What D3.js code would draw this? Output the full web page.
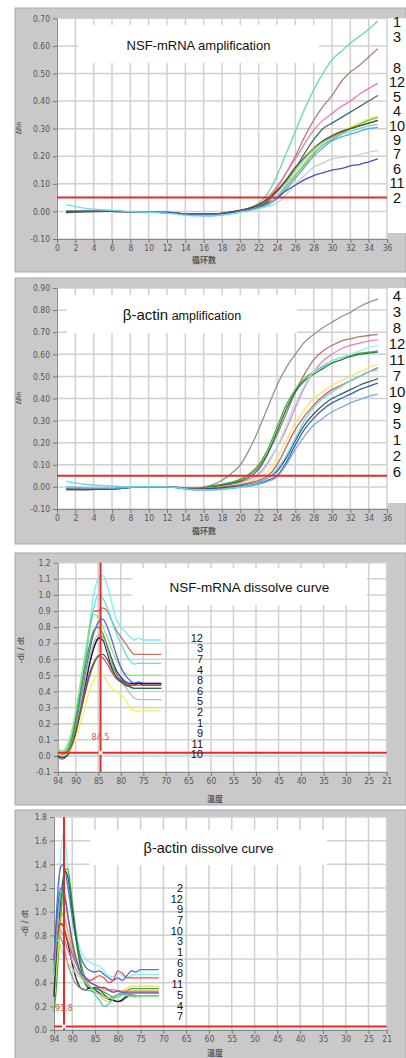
<!DOCTYPE html>
<html>
<head>
<meta charset="utf-8">
<script src="https://cdnjs.cloudflare.com/ajax/libs/d3/7.8.5/d3.min.js"></script>
<style>
body { margin: 0; background: #fff; }
svg { display: block; }
.tick text { font-family: "Liberation Sans Narrow", "DejaVu Sans Condensed", sans-serif; font-size: 8.5px; fill: #555; }
.tick line { stroke: #777; }
.domain { stroke: #8a8a8a; }
</style>
</head>
<body>
<div id="d3-container"></div>
<script>
// ---- data ----
const ampCycles = [1, 3, 6, 9, 12, 15, 17, 19, 20, 21, 22, 23, 24, 25, 26, 27, 28, 29, 30, 31, 32, 33, 34, 35];
const ampXTicks = [0, 2, 4, 6, 8, 10, 12, 14, 16, 18, 20, 22, 24, 26, 28, 30, 32, 34, 36];

const nsfAmpYTicks = [-0.1, 0, 0.1, 0.2, 0.3, 0.4, 0.5, 0.6, 0.7];
const nsfAmpLabels = ['1', '3', '8', '12', '5', '4', '10', '9', '7', '6', '11', '2'];
const nsfAmpColors = ['#56d8a8', '#b07868', '#e870b8', '#306858', '#e8e040', '#e05838', '#58c058', '#505028', '#58a0e0', '#c8c8dc', '#3048c0', '#60e0e0'];
const nsfAmpValues = [
  [0.002, 0, 0, -0.002, -0.004, -0.012, -0.012, -0.004, 0.003, 0.012, 0.03, 0.065, 0.13, 0.21, 0.29, 0.37, 0.44, 0.50, 0.55, 0.58, 0.61, 0.635, 0.66, 0.69],
  [0, 0.002, 0, -0.002, -0.004, -0.01, -0.01, -0.002, 0.004, 0.012, 0.025, 0.05, 0.09, 0.14, 0.20, 0.27, 0.33, 0.38, 0.42, 0.47, 0.505, 0.53, 0.56, 0.59],
  [-0.002, 0, 0, -0.002, -0.004, -0.01, -0.01, -0.003, 0.004, 0.012, 0.022, 0.04, 0.085, 0.14, 0.19, 0.245, 0.295, 0.33, 0.355, 0.38, 0.40, 0.425, 0.445, 0.465],
  [-0.004, -0.002, 0, -0.002, -0.004, -0.01, -0.01, -0.003, 0.003, 0.01, 0.02, 0.035, 0.075, 0.11, 0.155, 0.21, 0.26, 0.30, 0.32, 0.34, 0.36, 0.38, 0.40, 0.42],
  [0, 0, 0, -0.002, -0.004, -0.012, -0.014, -0.006, 0, 0.006, 0.014, 0.025, 0.05, 0.09, 0.14, 0.18, 0.22, 0.25, 0.27, 0.29, 0.305, 0.32, 0.335, 0.345],
  [0, 0.002, 0, -0.002, -0.004, -0.01, -0.01, -0.002, 0.004, 0.012, 0.024, 0.04, 0.07, 0.11, 0.155, 0.195, 0.23, 0.255, 0.27, 0.285, 0.30, 0.31, 0.32, 0.33],
  [0, 0, 0, -0.002, -0.004, -0.014, -0.016, -0.008, -0.002, 0.004, 0.012, 0.022, 0.05, 0.09, 0.13, 0.17, 0.21, 0.24, 0.26, 0.28, 0.30, 0.315, 0.33, 0.34],
  [-0.004, 0, 0, -0.002, -0.004, -0.01, -0.01, -0.002, 0.004, 0.012, 0.025, 0.045, 0.075, 0.115, 0.16, 0.195, 0.225, 0.255, 0.275, 0.29, 0.30, 0.31, 0.32, 0.33],
  [0, 0, 0, -0.002, -0.004, -0.012, -0.012, -0.005, 0, 0.006, 0.014, 0.025, 0.045, 0.08, 0.12, 0.16, 0.20, 0.23, 0.255, 0.27, 0.28, 0.29, 0.30, 0.305],
  [0, 0, 0, -0.002, -0.004, -0.012, -0.012, -0.006, -0.002, 0.003, 0.01, 0.018, 0.03, 0.06, 0.10, 0.13, 0.16, 0.175, 0.19, 0.195, 0.20, 0.205, 0.215, 0.22],
  [0, 0, 0, -0.002, -0.004, -0.01, -0.01, -0.004, 0, 0.006, 0.014, 0.03, 0.05, 0.075, 0.095, 0.115, 0.13, 0.14, 0.15, 0.155, 0.165, 0.17, 0.18, 0.19],
  [0.025, 0.012, 0.004, -0.002, -0.006, -0.016, -0.016, -0.008, -0.002, 0.004, 0.012, 0.025, 0.055, 0.10, 0.15, 0.19, 0.225, 0.25, 0.265, 0.28, 0.29, 0.30, 0.31, 0.315]
];

const actinAmpYTicks = [-0.1, 0, 0.1, 0.2, 0.3, 0.4, 0.5, 0.6, 0.7, 0.8, 0.9];
const actinAmpLabels = ['4', '3', '8', '12', '11', '7', '10', '9', '5', '1', '2', '6'];
const actinAmpColors = ['#8c8c8c', '#b07060', '#e878c8', '#38b038', '#207040', '#a8e8f0', '#f0e860', '#e05050', '#305848', '#3050d0', '#70a8e0', '#60d8e0'];
const actinAmpValues = [
  [-0.01, -0.01, -0.008, 0, 0, -0.006, 0.01, 0.06, 0.10, 0.17, 0.26, 0.36, 0.46, 0.54, 0.60, 0.655, 0.69, 0.72, 0.745, 0.77, 0.79, 0.815, 0.835, 0.85],
  [-0.01, -0.01, -0.008, 0, 0, -0.006, 0.004, 0.02, 0.03, 0.055, 0.09, 0.155, 0.235, 0.33, 0.43, 0.51, 0.575, 0.615, 0.64, 0.66, 0.67, 0.68, 0.685, 0.69],
  [-0.01, -0.01, -0.008, 0, 0, -0.008, 0, 0.012, 0.02, 0.035, 0.06, 0.11, 0.18, 0.26, 0.36, 0.45, 0.52, 0.57, 0.60, 0.625, 0.64, 0.65, 0.66, 0.665],
  [-0.01, -0.01, -0.008, 0, 0, -0.006, 0.004, 0.02, 0.035, 0.06, 0.10, 0.17, 0.27, 0.37, 0.44, 0.49, 0.52, 0.545, 0.57, 0.585, 0.595, 0.605, 0.61, 0.615],
  [-0.01, -0.012, -0.008, 0, 0, -0.008, 0, 0.015, 0.025, 0.045, 0.08, 0.15, 0.25, 0.35, 0.43, 0.48, 0.51, 0.535, 0.56, 0.575, 0.59, 0.60, 0.605, 0.61],
  [0, -0.004, -0.006, 0, 0, -0.01, -0.008, 0, 0.01, 0.025, 0.05, 0.10, 0.18, 0.28, 0.38, 0.46, 0.52, 0.55, 0.57, 0.585, 0.60, 0.615, 0.63, 0.64],
  [-0.01, -0.01, -0.008, 0, 0, -0.008, -0.004, 0.006, 0.012, 0.022, 0.04, 0.07, 0.13, 0.21, 0.29, 0.35, 0.40, 0.43, 0.46, 0.48, 0.50, 0.52, 0.54, 0.555],
  [-0.012, -0.012, -0.01, 0, 0, -0.008, -0.004, 0.004, 0.01, 0.018, 0.03, 0.05, 0.10, 0.18, 0.26, 0.32, 0.37, 0.41, 0.44, 0.46, 0.48, 0.50, 0.52, 0.54],
  [-0.012, -0.012, -0.01, 0, 0, -0.01, -0.008, 0, 0.005, 0.012, 0.022, 0.04, 0.07, 0.13, 0.21, 0.28, 0.33, 0.37, 0.40, 0.42, 0.44, 0.46, 0.475, 0.49],
  [-0.01, -0.01, -0.008, 0, 0, -0.012, -0.01, -0.004, 0.002, 0.008, 0.016, 0.03, 0.05, 0.11, 0.19, 0.26, 0.31, 0.35, 0.38, 0.40, 0.42, 0.44, 0.455, 0.47],
  [0, -0.004, -0.006, 0, 0, -0.014, -0.014, -0.008, -0.002, 0.004, 0.012, 0.025, 0.045, 0.10, 0.17, 0.23, 0.28, 0.31, 0.34, 0.36, 0.38, 0.395, 0.41, 0.42],
  [0.025, 0.012, 0.004, 0, 0, -0.012, -0.012, -0.006, 0, 0.01, 0.02, 0.04, 0.08, 0.14, 0.22, 0.30, 0.36, 0.40, 0.43, 0.455, 0.48, 0.50, 0.52, 0.53]
];

const meltXTicks = [94, 90, 85, 80, 75, 70, 65, 60, 55, 50, 45, 40, 35, 30, 25, 21];

const nsfMeltTemps = [94, 93, 92, 91, 90, 89, 88, 87, 86, 85, 84, 83, 82, 81, 80, 79, 78, 77, 76, 75, 73, 71];
const nsfMeltYTicks = [-0.1, 0, 0.1, 0.2, 0.3, 0.4, 0.5, 0.6, 0.7, 0.8, 0.9, 1.0, 1.1, 1.2];
const nsfMeltLabels = ['12', '3', '7', '4', '8', '6', '5', '2', '1', '9', '11', '10'];
const nsfMeltColors = ['#70eef0', '#c07058', '#50e0e8', '#90e070', '#5060e0', '#101c8c', '#30a030', '#202020', '#b8b8b8', '#e04050', '#306848', '#f0f050'];
const nsfMeltValues = [
  [0.04, 0.03, 0.05, 0.12, 0.25, 0.42, 0.60, 0.80, 1.00, 1.10, 1.12, 1.06, 0.95, 0.85, 0.80, 0.77, 0.74, 0.72, 0.73, 0.72, 0.72, 0.72],
  [0.02, 0.01, 0.03, 0.10, 0.22, 0.38, 0.55, 0.78, 0.90, 0.90, 0.92, 0.90, 0.84, 0.78, 0.74, 0.70, 0.66, 0.63, 0.63, 0.63, 0.63, 0.63],
  [0.03, 0.02, 0.04, 0.11, 0.24, 0.40, 0.57, 0.76, 0.92, 1.00, 0.98, 0.92, 0.84, 0.76, 0.70, 0.64, 0.59, 0.57, 0.575, 0.575, 0.575, 0.575],
  [0.05, 0.03, 0.06, 0.14, 0.28, 0.45, 0.62, 0.78, 0.88, 0.86, 0.80, 0.74, 0.66, 0.60, 0.55, 0.51, 0.50, 0.50, 0.50, 0.50, 0.50, 0.50],
  [-0.01, -0.02, 0, 0.06, 0.18, 0.33, 0.48, 0.64, 0.76, 0.83, 0.85, 0.80, 0.72, 0.63, 0.55, 0.50, 0.47, 0.45, 0.46, 0.45, 0.45, 0.45],
  [0, -0.01, 0, 0.05, 0.16, 0.30, 0.44, 0.57, 0.67, 0.73, 0.74, 0.68, 0.60, 0.53, 0.49, 0.46, 0.45, 0.45, 0.45, 0.45, 0.45, 0.45],
  [0.02, 0, 0.02, 0.09, 0.22, 0.38, 0.54, 0.68, 0.78, 0.80, 0.76, 0.68, 0.59, 0.51, 0.46, 0.44, 0.43, 0.42, 0.42, 0.42, 0.42, 0.42],
  [0, -0.01, 0, 0.05, 0.15, 0.28, 0.42, 0.56, 0.67, 0.73, 0.72, 0.64, 0.55, 0.50, 0.47, 0.45, 0.44, 0.44, 0.45, 0.44, 0.44, 0.44],
  [0.01, 0, 0.01, 0.06, 0.17, 0.31, 0.46, 0.60, 0.70, 0.75, 0.74, 0.66, 0.57, 0.50, 0.46, 0.43, 0.39, 0.36, 0.35, 0.35, 0.35, 0.35],
  [0, -0.01, 0.01, 0.06, 0.16, 0.28, 0.40, 0.51, 0.58, 0.62, 0.61, 0.57, 0.52, 0.48, 0.46, 0.45, 0.44, 0.44, 0.44, 0.44, 0.44, 0.44],
  [0, -0.01, 0, 0.05, 0.14, 0.26, 0.38, 0.49, 0.57, 0.62, 0.63, 0.60, 0.54, 0.49, 0.46, 0.44, 0.43, 0.42, 0.42, 0.42, 0.42, 0.42],
  [0.02, 0, 0.01, 0.04, 0.11, 0.20, 0.30, 0.40, 0.47, 0.51, 0.50, 0.46, 0.42, 0.40, 0.38, 0.35, 0.30, 0.28, 0.28, 0.28, 0.28, 0.28]
];

const actinMeltTemps = [94, 93.5, 93, 92.5, 92, 91.5, 91, 90, 89, 88, 87, 86, 85, 84, 83, 82, 81, 80, 79, 78, 77, 76, 75, 73, 71];
const actinMeltYTicks = [0, 0.2, 0.4, 0.6, 0.8, 1.0, 1.2, 1.4, 1.6, 1.8];
const actinMeltLabels = ['2', '12', '9', '7', '10', '3', '1', '6', '8', '11', '5', '4', '7'];
const actinMeltColors = ['#80f0f0', '#4868d8', '#30a840', '#206038', '#e8e040', '#f0a050', '#202020', '#e878b8', '#e84848', '#909090', '#a8e878', '#40c8c0', '#7048c0'];
const actinMeltValues = [
  [0.4, 0.75, 1.15, 1.5, 1.65, 1.58, 1.38, 1.0, 0.78, 0.66, 0.60, 0.57, 0.55, 0.54, 0.50, 0.46, 0.45, 0.48, 0.46, 0.44, 0.46, 0.47, 0.47, 0.47, 0.47],
  [0.55, 0.95, 1.25, 1.38, 1.40, 1.34, 1.22, 0.95, 0.74, 0.60, 0.53, 0.50, 0.49, 0.50, 0.47, 0.44, 0.42, 0.44, 0.42, 0.46, 0.50, 0.49, 0.51, 0.51, 0.51],
  [0.15, 0.35, 0.65, 0.95, 1.22, 1.36, 1.36, 1.08, 0.78, 0.55, 0.42, 0.36, 0.35, 0.34, 0.32, 0.30, 0.28, 0.28, 0.30, 0.33, 0.35, 0.35, 0.35, 0.35, 0.35],
  [0.3, 0.55, 0.85, 1.10, 1.28, 1.34, 1.30, 1.02, 0.72, 0.50, 0.38, 0.35, 0.36, 0.34, 0.30, 0.27, 0.25, 0.24, 0.26, 0.29, 0.31, 0.31, 0.31, 0.31, 0.31],
  [0.3, 0.5, 0.72, 0.90, 1.00, 1.02, 0.96, 0.78, 0.60, 0.48, 0.40, 0.36, 0.33, 0.30, 0.25, 0.24, 0.27, 0.30, 0.33, 0.35, 0.37, 0.37, 0.37, 0.37, 0.37],
  [0.35, 0.6, 0.82, 0.95, 0.98, 0.92, 0.84, 0.68, 0.55, 0.46, 0.42, 0.40, 0.38, 0.36, 0.34, 0.33, 0.32, 0.33, 0.33, 0.33, 0.33, 0.33, 0.33, 0.33, 0.33],
  [0.28, 0.65, 0.86, 0.90, 0.88, 0.82, 0.74, 0.56, 0.42, 0.35, 0.34, 0.36, 0.34, 0.31, 0.28, 0.26, 0.25, 0.24, 0.25, 0.28, 0.29, 0.28, null, null, null],
  [0.6, 0.78, 0.85, 0.84, 0.80, 0.74, 0.68, 0.58, 0.50, 0.45, 0.42, 0.40, 0.38, 0.36, 0.35, 0.34, 0.34, 0.33, 0.32, 0.31, 0.31, 0.31, 0.31, 0.31, 0.31],
  [0.5, 0.72, 0.86, 0.90, 0.88, 0.82, 0.76, 0.64, 0.55, 0.48, 0.44, 0.42, 0.44, 0.46, 0.44, 0.40, 0.42, 0.50, 0.48, 0.44, 0.44, 0.44, 0.44, 0.44, 0.44],
  [0.6, 0.75, 0.80, 0.78, 0.72, 0.64, 0.56, 0.45, 0.38, 0.35, 0.34, 0.33, 0.32, 0.30, 0.28, 0.27, 0.28, 0.30, 0.31, 0.31, 0.30, 0.29, 0.28, null, null],
  [0.7, 0.76, 0.75, 0.70, 0.64, 0.60, 0.57, 0.52, 0.47, 0.43, 0.40, 0.37, 0.33, 0.30, 0.28, 0.27, 0.27, 0.28, 0.30, 0.29, 0.28, 0.28, 0.28, 0.28, 0.28],
  [0.45, 0.75, 1.0, 1.15, 1.2, 1.12, 0.98, 0.72, 0.55, 0.45, 0.40, 0.36, 0.30, 0.25, 0.20, 0.22, 0.26, 0.30, 0.30, 0.30, 0.29, 0.29, 0.29, 0.29, 0.29],
  [0.6, 0.9, 1.1, 1.2, 1.18, 1.1, 0.98, 0.75, 0.58, 0.48, 0.44, 0.40, 0.38, 0.36, 0.36, 0.34, 0.32, 0.33, 0.32, 0.32, 0.32, 0.32, 0.32, 0.32, 0.32]
];

// ---- page ----
let svg = d3.select('#d3-container')
  .append('svg')
  .attr('width', 406)
  .attr('height', 1058)
  .style('background-color', 'white');

function drawPanel(p) {
  const g = svg.append('g');

  // gray frame
  g.append('rect')
    .attr('x', p.frame[0]).attr('y', p.frame[1])
    .attr('width', p.frame[2]).attr('height', p.frame[3])
    .attr('fill', '#c9c9c9')
    .attr('stroke', '#a9a9a9');

  const x = d3.scaleLinear().domain(p.xDomain).range([p.left, p.right]);
  const y = d3.scaleLinear().domain(p.yDomain).range([p.bottom, p.top]);

  // white plot area
  g.append('rect')
    .attr('x', p.left).attr('y', p.top)
    .attr('width', p.right - p.left).attr('height', p.bottom - p.top)
    .attr('fill', '#fff');

  // white strip behind the right-hand labels
  if (p.labelStrip) {
    g.append('rect')
      .attr('x', p.right).attr('y', p.top)
      .attr('width', 406 - p.right).attr('height', p.bottom - p.top - 6)
      .attr('fill', '#fff');
  }

  // grid
  g.append('g').selectAll('line')
    .data(p.xTicks)
    .join('line')
    .attr('x1', d => x(d)).attr('x2', d => x(d))
    .attr('y1', p.top).attr('y2', p.bottom)
    .attr('stroke', '#d0d0d0')
    .attr('stroke-width', 1.5);
  g.append('g').selectAll('line')
    .data(p.yTicks)
    .join('line')
    .attr('x1', p.left).attr('x2', p.right)
    .attr('y1', d => y(d)).attr('y2', d => y(d))
    .attr('stroke', '#d0d0d0')
    .attr('stroke-width', 1.5);

  // axes
  g.append('g')
    .attr('transform', `translate(0, ${p.bottom})`)
    .call(d3.axisBottom(x).tickValues(p.xTicks).tickSize(4).tickPadding(2).tickSizeOuter(0).tickFormat(d => d));
  g.append('g')
    .attr('transform', `translate(${p.left}, 0)`)
    .call(d3.axisLeft(y).tickValues(p.yTicks).tickSize(4).tickSizeOuter(0).tickFormat(d => d.toFixed(p.digits)));

  // title box
  g.append('rect')
    .attr('x', p.box[0]).attr('y', p.box[1])
    .attr('width', p.box[2]).attr('height', p.box[3])
    .attr('fill', '#fff');
  const t = g.append('text')
    .attr('x', p.box[0] + p.box[2] / 2)
    .attr('y', p.box[1] + p.box[3] / 2)
    .attr('dy', '0.35em')
    .attr('text-anchor', 'middle')
    .style('font-family', 'Liberation Sans, Arial, sans-serif')
    .style('fill', '#111');
  p.title.forEach(part => t.append('tspan').style('font-size', part[1] + 'px').text(part[0]));

  // curves
  const line = d3.line()
    .defined(d => d[1] != null)
    .x(d => x(d[0]))
    .y(d => y(d[1]))
    .curve(d3.curveMonotoneX);
  g.append('g').selectAll('path')
    .data(p.values)
    .join('path')
    .attr('d', vals => line(p.xs.map((v, i) => [v, vals[i]])))
    .attr('fill', 'none')
    .attr('stroke', (d, i) => p.colors[i])
    .attr('stroke-width', 1.3)
    .attr('opacity', 0.95);

  // threshold line
  g.append('line')
    .attr('x1', p.left).attr('x2', p.right)
    .attr('y1', y(p.threshold)).attr('y2', y(p.threshold))
    .attr('stroke', '#e42a2a')
    .attr('stroke-width', 2);

  // melt cursor
  if (p.cursor) {
    g.append('line')
      .attr('x1', x(p.cursor)).attr('x2', x(p.cursor))
      .attr('y1', p.top).attr('y2', p.bottom)
      .attr('stroke', '#e42a2a')
      .attr('stroke-width', 2);
    g.append('circle')
      .attr('cx', x(p.cursor)).attr('cy', y(p.threshold))
      .attr('r', 2)
      .attr('fill', '#fff');
    g.append('text')
      .attr('x', x(p.cursor)).attr('y', p.cursorLabelY)
      .attr('text-anchor', 'middle')
      .style('font-family', 'Liberation Sans Narrow, DejaVu Sans Condensed, sans-serif')
      .style('font-size', '9px')
      .style('fill', '#e85050')
      .text(p.cursor.toFixed(1));
  }

  // sample labels
  g.append('g').selectAll('text')
    .data(p.labels)
    .join('text')
    .attr('x', p.labelX)
    .attr('y', (d, i) => p.labelY(i))
    .attr('dy', '0.35em')
    .attr('text-anchor', p.labelAnchor)
    .style('font-family', 'Liberation Sans, Arial, sans-serif')
    .style('font-size', p.labelSize + 'px')
    .style('fill', '#111')
    .text(d => d);

  //adding the x label
  g.append('text')
    .attr('x', p.xTitle[0]).attr('y', p.xTitle[1])
    .attr('text-anchor', 'middle')
    .style('font-family', 'Noto Sans CJK SC, sans-serif')
    .style('font-size', '8px')
    .style('font-weight', 'bold')
    .style('fill', '#555')
    .text(p.xTitle[2]);

  //adding the y label
  g.append('text')
    .attr('transform', `translate(${p.yTitle[0]}, ${p.yTitle[1]}) rotate(-90)`)
    .attr('text-anchor', 'middle')
    .style('font-family', 'DejaVu Sans Condensed, sans-serif')
    .style('font-size', p.yTitle[3] + 'px')
    .style('fill', '#444')
    .text(p.yTitle[2]);
}

drawPanel({
  frame: [15, 8, 391, 264], left: 57, right: 387, top: 18.3, bottom: 239,
  xDomain: [0, 36], yDomain: [-0.1, 0.7], xTicks: ampXTicks, yTicks: nsfAmpYTicks, digits: 2,
  xs: ampCycles, values: nsfAmpValues, colors: nsfAmpColors, threshold: 0.05,
  box: [78, 25, 241, 38], title: [['NSF-mRNA amplification', 13]],
  labels: nsfAmpLabels, labelX: 397, labelAnchor: 'middle', labelSize: 14.5, labelStrip: true,
  labelY: i => i < 2 ? 22 + 15 * i : 68 + (i - 2) * 14.4,
  xTitle: [204, 263, '循环数'], yTitle: [21, 128, 'ΔRn', 7]
});

drawPanel({
  frame: [15, 278, 391, 266], left: 57, right: 387, top: 288, bottom: 509,
  xDomain: [0, 36], yDomain: [-0.1, 0.9], xTicks: ampXTicks, yTicks: actinAmpYTicks, digits: 2,
  xs: ampCycles, values: actinAmpValues, colors: actinAmpColors, threshold: 0.05,
  box: [67, 295, 230, 38], title: [['β-actin', 15], [' amplification', 12.5]],
  labels: actinAmpLabels, labelX: 397, labelAnchor: 'middle', labelSize: 15, labelStrip: true,
  labelY: i => 296 + i * 16,
  xTitle: [204, 534, '循环数'], yTitle: [21, 398, 'ΔRn', 7]
});

drawPanel({
  frame: [15, 553, 391, 252], left: 57.7, right: 386.7, top: 562.7, bottom: 772,
  xDomain: [94, 21], yDomain: [-0.1, 1.2], xTicks: meltXTicks, yTicks: nsfMeltYTicks, digits: 1,
  xs: nsfMeltTemps, values: nsfMeltValues, colors: nsfMeltColors, threshold: 0.02,
  cursor: 84.5, cursorLabelY: 740,
  box: [132, 568, 235, 37], title: [['NSF-mRNA dissolve curve', 13.5]],
  labels: nsfMeltLabels, labelX: 203, labelAnchor: 'end', labelSize: 11,
  labelY: i => 638 + i * 10.6,
  xTitle: [215, 802, '温度'], yTitle: [24, 650, '-di / dt', 9]
});

drawPanel({
  frame: [15, 810, 391, 250], left: 54, right: 386.7, top: 817, bottom: 1030,
  xDomain: [94, 21], yDomain: [0, 1.8], xTicks: meltXTicks, yTicks: actinMeltYTicks, digits: 1,
  xs: actinMeltTemps, values: actinMeltValues, colors: actinMeltColors, threshold: 0.03,
  cursor: 91.8, cursorLabelY: 1011,
  box: [90, 830, 237, 35], title: [['β-actin', 14.5], [' dissolve curve', 13]],
  labels: actinMeltLabels, labelX: 183, labelAnchor: 'end', labelSize: 11,
  labelY: i => 888 + i * 10.7,
  xTitle: [215, 1056, '温度'], yTitle: [28, 923, '-di / dt', 9]
});
</script>
</body>
</html>
